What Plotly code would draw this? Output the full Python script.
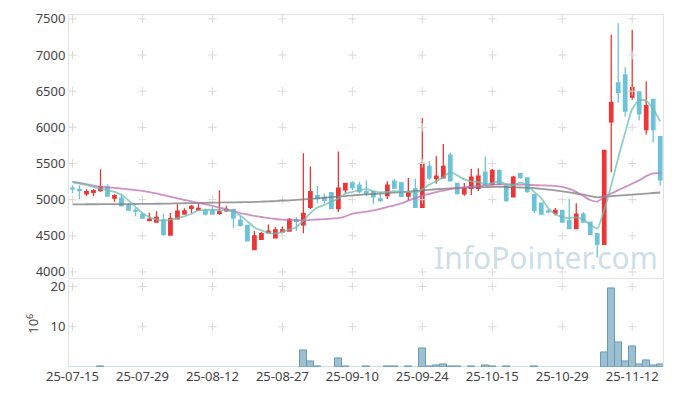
import plotly.graph_objects as go
from plotly.subplots import make_subplots

dates = [
    "2025-07-15", "2025-07-16", "2025-07-17", "2025-07-18", "2025-07-21", "2025-07-22", "2025-07-23", "2025-07-24", "2025-07-25", "2025-07-28",
    "2025-07-29", "2025-07-30", "2025-07-31", "2025-08-01", "2025-08-04", "2025-08-05", "2025-08-06", "2025-08-07", "2025-08-08", "2025-08-11",
    "2025-08-12", "2025-08-13", "2025-08-14", "2025-08-18", "2025-08-19", "2025-08-20", "2025-08-21", "2025-08-22", "2025-08-25", "2025-08-26",
    "2025-08-27", "2025-08-28", "2025-08-29", "2025-09-01", "2025-09-02", "2025-09-03", "2025-09-04", "2025-09-05", "2025-09-08", "2025-09-09",
    "2025-09-10", "2025-09-11", "2025-09-12", "2025-09-15", "2025-09-16", "2025-09-17", "2025-09-18", "2025-09-19", "2025-09-22", "2025-09-23",
    "2025-09-24", "2025-09-25", "2025-09-26", "2025-09-29", "2025-09-30", "2025-10-01", "2025-10-02", "2025-10-10", "2025-10-13", "2025-10-14",
    "2025-10-15", "2025-10-16", "2025-10-17", "2025-10-20", "2025-10-21", "2025-10-22", "2025-10-23", "2025-10-24", "2025-10-27", "2025-10-28",
    "2025-10-29", "2025-10-30", "2025-10-31", "2025-11-03", "2025-11-04", "2025-11-05", "2025-11-06", "2025-11-07", "2025-11-10", "2025-11-11",
    "2025-11-12", "2025-11-13", "2025-11-14", "2025-11-17", "2025-11-18",
]

open_ = [5160, 5140, 5080, 5100, 5125, 5175, 5020, 5020, 4920, 4850,
         4795, 4710, 4690, 4720, 4510, 4735, 4800, 4880, 4855, 4850,
         4850, 4810, 4845, 4860, 4715, 4645, 4310, 4450, 4540, 4470,
         4555, 4565, 4720, 4650, 4895, 5055, 5030, 5095, 4875, 5135,
         5230, 5200, 5110, 5110, 5010, 5055, 5255, 5230, 5050, 5150,
         4895, 5460, 5290, 5300, 5615, 5225, 5080, 5155, 5155, 5380,
         5210, 5405, 5190, 5040, 5360, 5300, 5070, 4950, 4840, 4810,
         4850, 4710, 4600, 4800, 4690, 4530, 4380, 6075, 6615, 6725,
         6420, 6490, 5970, 6385, 5870]
high = [5200, 5200, 5140, 5145, 5420, 5210, 5075, 5085, 4950, 4880,
        4820, 4820, 4840, 4800, 4815, 4935, 4880, 4925, 4960, 4875,
        4900, 5130, 4915, 4875, 4770, 4650, 4565, 4550, 4655, 4620,
        4630, 4745, 4755, 5640, 5460, 5190, 5085, 5100, 5665, 5225,
        5255, 5245, 5265, 5110, 5110, 5255, 5285, 5245, 5300, 5290,
        6130, 5530, 5600, 5770, 5650, 5225, 5230, 5425, 5435, 5595,
        5425, 5410, 5190, 5330, 5370, 5310, 5070, 4950, 4870, 4885,
        4860, 5010, 4950, 4830, 4695, 4535, 5685, 7280, 7440, 6830,
        7350, 6500, 6635, 6385, 5870]
low = [5090, 5005, 5050, 5050, 5110, 5040, 4970, 4905, 4850, 4770,
       4730, 4705, 4690, 4505, 4505, 4735, 4790, 4815, 4855, 4780,
       4790, 4790, 4830, 4610, 4630, 4420, 4310, 4440, 4530, 4470,
       4520, 4565, 4565, 4535, 4870, 4950, 4950, 4875, 4830, 5095,
       5130, 5085, 5050, 4940, 4970, 5010, 5150, 5040, 4990, 4895,
       4895, 5270, 5220, 5300, 5260, 5070, 5055, 5065, 5120, 5200,
       5195, 5200, 4970, 5030, 5290, 5095, 4815, 4800, 4810, 4780,
       4680, 4590, 4590, 4680, 4510, 4200, 4375, 5380, 6340, 6150,
       6380, 6095, 5900, 5790, 5200]
close = [5150, 5125, 5110, 5125, 5180, 5050, 5055, 4915, 4855, 4840,
         4745, 4730, 4755, 4515, 4740, 4840, 4845, 4905, 4880, 4800,
         4800, 4830, 4865, 4745, 4645, 4430, 4500, 4530, 4565, 4580,
         4580, 4725, 4700, 4810, 5110, 5015, 4990, 4875, 5160, 5225,
         5165, 5110, 5085, 5040, 4985, 5200, 5160, 5045, 5100, 4895,
         5500, 5300, 5325, 5460, 5260, 5085, 5160, 5310, 5325, 5200,
         5405, 5210, 4985, 5310, 5305, 5110, 4850, 4800, 4830, 4850,
         4690, 4600, 4800, 4690, 4520, 4385, 5680, 6345, 6485, 6225,
         6550, 6185, 6300, 5970, 5275]

ma_short = [5244, 5225, 5200, 5175, 5153, 5130, 5108, 5063, 4990, 4900,
            4813, 4759, 4723, 4709, 4723, 4745, 4768, 4805, 4850, 4859,
            4860, 4855, 4850, 4836, 4778, 4700, 4615, 4574, 4541, 4533,
            4555, 4587, 4619, 4710, 4813, 4890, 4927, 4972, 5017, 5085,
            5105, 5131, 5145, 5118, 5099, 5108, 5118, 5108, 5108, 5099,
            5145, 5208, 5254, 5312, 5380, 5335, 5281, 5254, 5244, 5213,
            5230, 5254, 5213, 5199, 5235, 5199, 5108, 5020, 4881, 4800,
            4759, 4745, 4755, 4723, 4655, 4601, 4860, 5200, 5580, 5930,
            6254, 6376, 6368, 6254, 6082]
ma_mid = [5244, 5230, 5215, 5195, 5176, 5170, 5162, 5153, 5143, 5132,
          5122, 5105, 5085, 5063, 5040, 5018, 4995, 4975, 4955, 4935,
          4915, 4890, 4868, 4840, 4815, 4795, 4775, 4760, 4745, 4732,
          4723, 4718, 4715, 4714, 4720, 4725, 4730, 4738, 4745, 4770,
          4805, 4820, 4835, 4850, 4873, 4898, 4922, 4949, 4985, 5020,
          5054, 5080, 5105, 5125, 5145, 5160, 5170, 5180, 5190, 5200,
          5205, 5210, 5212, 5210, 5208, 5205, 5200, 5198, 5194, 5190,
          5175, 5150, 5108, 5050, 4995, 4972, 5040, 5085, 5131, 5176,
          5222, 5267, 5326, 5362, 5371]
ma_long = [4935, 4935, 4936, 4936, 4937, 4937, 4938, 4938, 4939, 4940,
           4941, 4942, 4943, 4944, 4946, 4948, 4950, 4952, 4954, 4956,
           4958, 4960, 4962, 4963, 4964, 4965, 4968, 4972, 4976, 4980,
           4985, 4990, 4996, 5002, 5010, 5018, 5026, 5034, 5042, 5050,
           5060, 5066, 5072, 5078, 5084, 5090, 5097, 5104, 5112, 5120,
           5128, 5136, 5144, 5150, 5156, 5160, 5164, 5168, 5172, 5174,
           5176, 5176, 5175, 5172, 5168, 5164, 5158, 5150, 5140, 5128,
           5115, 5100, 5085, 5068, 5050, 5031, 5040, 5048, 5055, 5062,
           5070, 5077, 5084, 5092, 5099]

volume_m = [0.02, 0.02, 0.02, 0.02, 0.15, 0.02, 0.02, 0.02, 0.02, 0.02,
            0.02, 0.02, 0.02, 0.02, 0.02, 0.02, 0.02, 0.02, 0.02, 0.02,
            0.02, 0.02, 0.02, 0.02, 0.02, 0.02, 0.02, 0.02, 0.02, 0.02,
            0.02, 0.02, 0.02, 4.2, 1.4, 0.2, 0.02, 0.02, 2.2, 0.2,
            0.02, 0.02, 0.15, 0.02, 0.02, 0.15, 0.15, 0.02, 0.15, 0.02,
            4.7, 0.2, 0.4, 0.65, 0.25, 0.25, 0.02, 0.2, 0.02, 0.45,
            0.2, 0.02, 0.2, 0.02, 0.02, 0.02, 0.2, 0.02, 0.02, 0.02,
            0.02, 0.02, 0.02, 0.02, 0.02, 0.02, 3.55, 19.6, 6.05, 1.45,
            5.0, 0.65, 1.7, 0.4, 0.65]

price_ticks = [4000, 4500, 5000, 5500, 6000, 6500, 7000, 7500]
volume_ticks = [10, 20]
date_tick_step = 10
tick_dates = dates[::date_tick_step]
tick_labels = [d[2:] for d in tick_dates]

RED = "#ee3535"
BLUE = "#6cc3d8"
GRID = "#dadada"
BORDER = "#e3e3e3"
FONT = "Noto Sans"

fig = make_subplots(rows=2, cols=1, shared_xaxes=True, vertical_spacing=0.006,
                    row_heights=[0.75, 0.25])

fig.add_trace(go.Candlestick(
    x=dates, open=open_, high=high, low=low, close=close,
    increasing=dict(line=dict(color=RED, width=1.3), fillcolor=RED),
    decreasing=dict(line=dict(color=BLUE, width=1.3), fillcolor=BLUE),
    whiskerwidth=0, hoverinfo="skip",
), row=1, col=1)

# cross markers at grid intersections
gx = [d for d in tick_dates for _ in price_ticks]
gy = [p for _ in tick_dates for p in price_ticks]
fig.add_trace(go.Scatter(x=gx, y=gy, mode="markers", hoverinfo="skip",
                         marker=dict(symbol="cross-thin", size=6, line=dict(color=GRID, width=1))),
              row=1, col=1)

for vals, col in [(ma_long, "rgba(120,120,120,0.75)"),
                  (ma_mid, "rgba(190,110,180,0.75)"),
                  (ma_short, "rgba(110,190,175,0.75)")]:
    fig.add_trace(go.Scatter(x=dates, y=vals, mode="lines",
                             line=dict(color=col, width=1.8, shape="spline", smoothing=0.6),
                             hoverinfo="skip"), row=1, col=1)

bar_outline = [1 if v >= 0.1 else 0 for v in volume_m]
fig.add_trace(go.Bar(x=dates, y=volume_m,
                     marker=dict(color="#9cc0d1", line=dict(color="#6b9cb6", width=bar_outline))),
              row=2, col=1)
vx = [d for d in tick_dates for _ in volume_ticks]
vy = [v for _ in tick_dates for v in volume_ticks]
fig.add_trace(go.Scatter(x=vx, y=vy, mode="markers", hoverinfo="skip",
                         marker=dict(symbol="cross-thin", size=6, line=dict(color=GRID, width=1))),
              row=2, col=1)

# the page body adds an 8px offset; the figure is sized to compensate
xrange = [-0.5, 84.4]
fig.update_layout(
    width=665, height=388,
    margin=dict(l=61, r=10, t=2, b=29),
    paper_bgcolor="white", plot_bgcolor="white",
    showlegend=False, bargap=0,
    font=dict(family=FONT, size=13, color="#444"),
    xaxis=dict(type="category", categoryorder="array", categoryarray=dates,
               range=xrange, rangeslider=dict(visible=False),
               showgrid=False, showticklabels=False, showline=True, mirror=True,
               linecolor=BORDER, linewidth=1, zeroline=False),
    xaxis2=dict(type="category", categoryorder="array", categoryarray=dates,
                range=xrange, showgrid=False,
                tickmode="array", tickvals=tick_dates, ticktext=tick_labels,
                tickangle=0, showline=False, zeroline=False, ticks="",
                tickfont=dict(size=13, color="#444")),
    yaxis=dict(domain=[0.252, 1], range=[3912, 7554], tickvals=price_ticks,
               showgrid=False, showline=True, mirror=True, linecolor=BORDER,
               zeroline=False, ticks="", ticklabeloverflow="allow",
               tickfont=dict(size=13, color="#444")),
    yaxis2=dict(domain=[0, 0.246], range=[0, 21.5], tickvals=volume_ticks,
                showgrid=False, showline=True, mirror=True, linecolor=BORDER,
                zeroline=False, ticks="", tickfont=dict(size=13, color="#444"),
                title=dict(text="10<sup>6</sup>", standoff=8,
                           font=dict(size=13, color="#444"))),
)

fig.add_annotation(text="InfoPointer.com", xref="paper", yref="paper",
                   x=0.803, y=0.311, xanchor="center", yanchor="middle", showarrow=False,
                   font=dict(family=FONT, size=30, color="rgba(175,203,218,0.65)"))

fig.write_html("out.html")
